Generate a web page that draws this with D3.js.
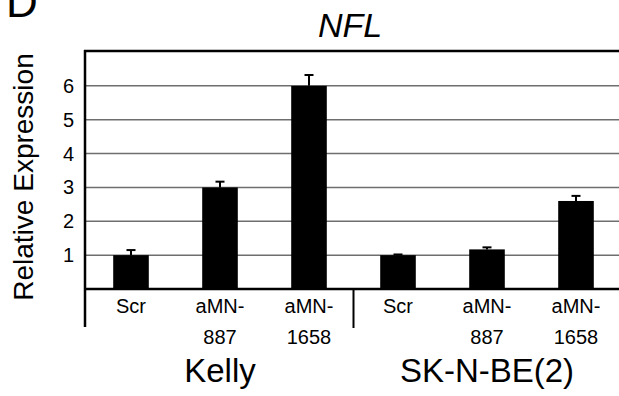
<!DOCTYPE html>
<html><head><meta charset="utf-8">
<script src="https://cdn.jsdelivr.net/npm/d3@7"></script>
<style>body{margin:0;background:#fff}svg{display:block}text{font-family:Arial,"Liberation Sans",sans-serif;fill:#000}</style>
</head><body><svg id="c" width="619" height="396"></svg>
<script>
const groups = ["Kelly", "SK-N-BE(2)"];
const samples = ["Scr", "aMN-887", "aMN-1658"];
const kellyValues = [1.0, 3.0, 6.0];
const kellyErrors = [0.15, 0.17, 0.32];
const skValues = [1.0, 1.17, 2.6];
const skErrors = [0.02, 0.06, 0.15];
const yTicks = [1, 2, 3, 4, 5, 6];
const title = "NFL";
const yLabel = "Relative Expression";
const panelLetter = "D";

const data = [];
[[kellyValues, kellyErrors], [skValues, skErrors]].forEach(([vals, errs], gi) => {
  samples.forEach((s, si) => data.push({id: gi + ":" + s, group: groups[gi], sample: s, v: vals[si], e: errs[si]}));
});

const svg = d3.select("#c");
const pLeft = 85, pTop = 51, pBottom = 289, pRight = 619;
const x = d3.scaleBand().domain(data.map(d => d.id)).range([86.5, 620.5]).paddingInner(0.6).paddingOuter(0.3);
const y = d3.scaleLinear().domain([0, 7]).range([pBottom, 52]);

// gridlines
svg.append("g").selectAll("line").data(yTicks).join("line")
  .attr("x1", pLeft).attr("x2", pRight).attr("y1", d => y(d)).attr("y2", d => y(d))
  .attr("stroke", "#6e6e6e").attr("stroke-width", 1.5);

// top border
svg.append("line").attr("x1", pLeft - 1).attr("x2", pRight).attr("y1", pTop).attr("y2", pTop).attr("stroke", "#000").attr("stroke-width", 2.5);

// bars
svg.append("g").selectAll("rect").data(data).join("rect")
  .attr("x", d => x(d.id)).attr("width", x.bandwidth())
  .attr("y", d => y(d.v)).attr("height", d => y(0) - y(d.v)).attr("fill", "#000");

// error bars
const eb = svg.append("g").attr("stroke", "#000").attr("stroke-width", 2);
eb.selectAll(".v").data(data).join("line")
  .attr("x1", d => x(d.id) + x.bandwidth() / 2).attr("x2", d => x(d.id) + x.bandwidth() / 2)
  .attr("y1", d => y(d.v)).attr("y2", d => y(d.v + d.e));
eb.selectAll(".c").data(data).join("line")
  .attr("x1", d => x(d.id) + x.bandwidth() / 2 - 4.5).attr("x2", d => x(d.id) + x.bandwidth() / 2 + 4.5)
  .attr("y1", d => y(d.v + d.e)).attr("y2", d => y(d.v + d.e));

// axes lines
svg.append("line").attr("x1", pLeft).attr("x2", pLeft).attr("y1", pTop - 1).attr("y2", 327).attr("stroke", "#000").attr("stroke-width", 2.5);
svg.append("line").attr("x1", pLeft).attr("x2", pRight).attr("y1", pBottom).attr("y2", pBottom).attr("stroke", "#000").attr("stroke-width", 2.5);
const divX = (x(data[2].id) + x.bandwidth() + x(data[3].id)) / 2;
svg.append("line").attr("x1", divX).attr("x2", divX).attr("y1", pBottom).attr("y2", 328).attr("stroke", "#000").attr("stroke-width", 2);

// y tick labels
svg.append("g").selectAll("text").data(yTicks).join("text")
  .attr("x", 74).attr("y", d => y(d) + 7).attr("text-anchor", "end")
  .attr("font-size", 20).text(d => d);

// category labels
const cat = svg.append("g").selectAll("text").data(data).join("text")
  .attr("text-anchor", "middle").attr("font-size", 20)
  .attr("transform", d => `translate(${x(d.id) + x.bandwidth() / 2},0)`);
cat.each(function(d) {
  const t = d3.select(this);
  const parts = d.sample.includes("-") ? [d.sample.split("-")[0] + "-", d.sample.split("-")[1]] : [d.sample];
  parts.forEach((p, i) => t.append("tspan").attr("x", 0).attr("y", 313 + i * 31).text(p));
});

// group labels
svg.append("g").selectAll("text").data(groups).join("text")
  .attr("x", g => {
    const ids = data.filter(d => d.group === g).map(d => d.id);
    return (x(ids[0]) + x(ids[ids.length - 1]) + x.bandwidth()) / 2;
  })
  .attr("y", 382).attr("text-anchor", "middle").attr("font-size", 33).text(g => g);

// title
svg.append("text").attr("x", 350).attr("y", 37).attr("text-anchor", "middle")
  .attr("font-size", 34).attr("font-style", "italic").text(title);

// y label
svg.append("text").attr("transform", "translate(33,177) rotate(-90)").attr("text-anchor", "middle")
  .attr("font-size", 28).text(yLabel);

// panel letter
svg.append("text").attr("x", 6).attr("y", 17).attr("font-size", 44).text(panelLetter);
</script></body></html>
